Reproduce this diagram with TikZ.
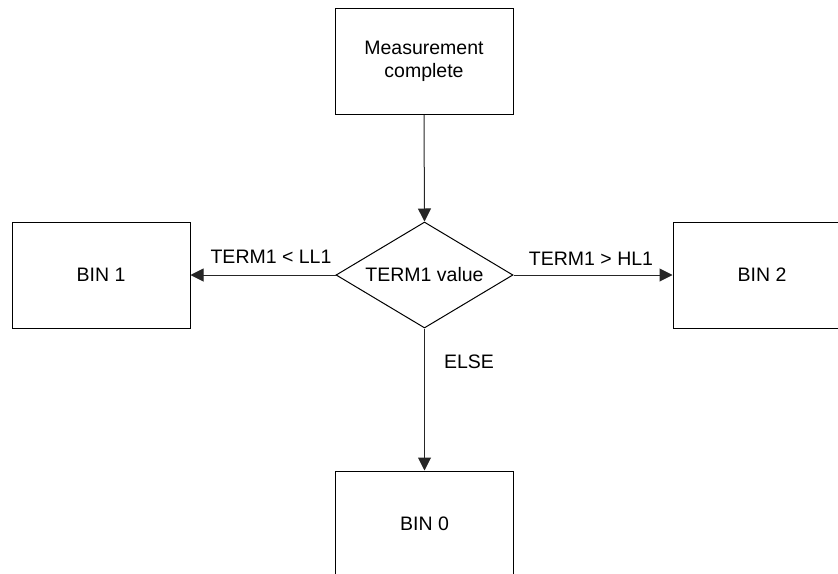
\documentclass[tikz,border=0pt]{standalone}
\usepackage{fontspec}
\setmainfont{Liberation Sans}
\usetikzlibrary{shapes.geometric,arrows.meta}
\begin{document}
\begin{tikzpicture}[x=1pt,y=-1pt,
  box/.style={draw=black,line width=1pt,minimum width=178pt,minimum height=106pt,inner sep=0pt,align=center,font=\fontsize{19.5}{23}\selectfont},
  dec/.style={draw=black,line width=1pt,diamond,minimum width=177pt,minimum height=106pt,inner sep=0pt,shape aspect=1.67,font=\fontsize{19.5}{23}\selectfont},
  conn/.style={draw=black!85,line width=1pt,-{Triangle[length=13pt,width=13pt]}},
  lbl/.style={font=\fontsize{19.5}{23}\selectfont,inner sep=0pt}]
\useasboundingbox (0,0) rectangle (838,573);
\clip (0,0) rectangle (838,573);
\node[box] (top) at (424,61.5) {Measurement\\complete};
\node[dec] (d) at (424.5,275) {TERM1 value};
\node[box] (b1) at (101,275) {BIN 1};
\node[box] (b2) at (762,275) {BIN 2};
\node[box] (b0) at (424.5,524) {BIN 0};
\draw[conn] (top.south) -- (d.north);
\draw[conn] (d.west) -- (b1.east);
\draw[conn] (d.east) -- (b2.west);
\draw[conn] (d.south) -- (b0.north);
\node[lbl] (l1) at (271,257) {TERM1 < LL1};
\node[lbl] (l2) at (591,259) {TERM1 > HL1};
\node[lbl] (l0) at (469,362) {ELSE};
\end{tikzpicture}
\end{document}
